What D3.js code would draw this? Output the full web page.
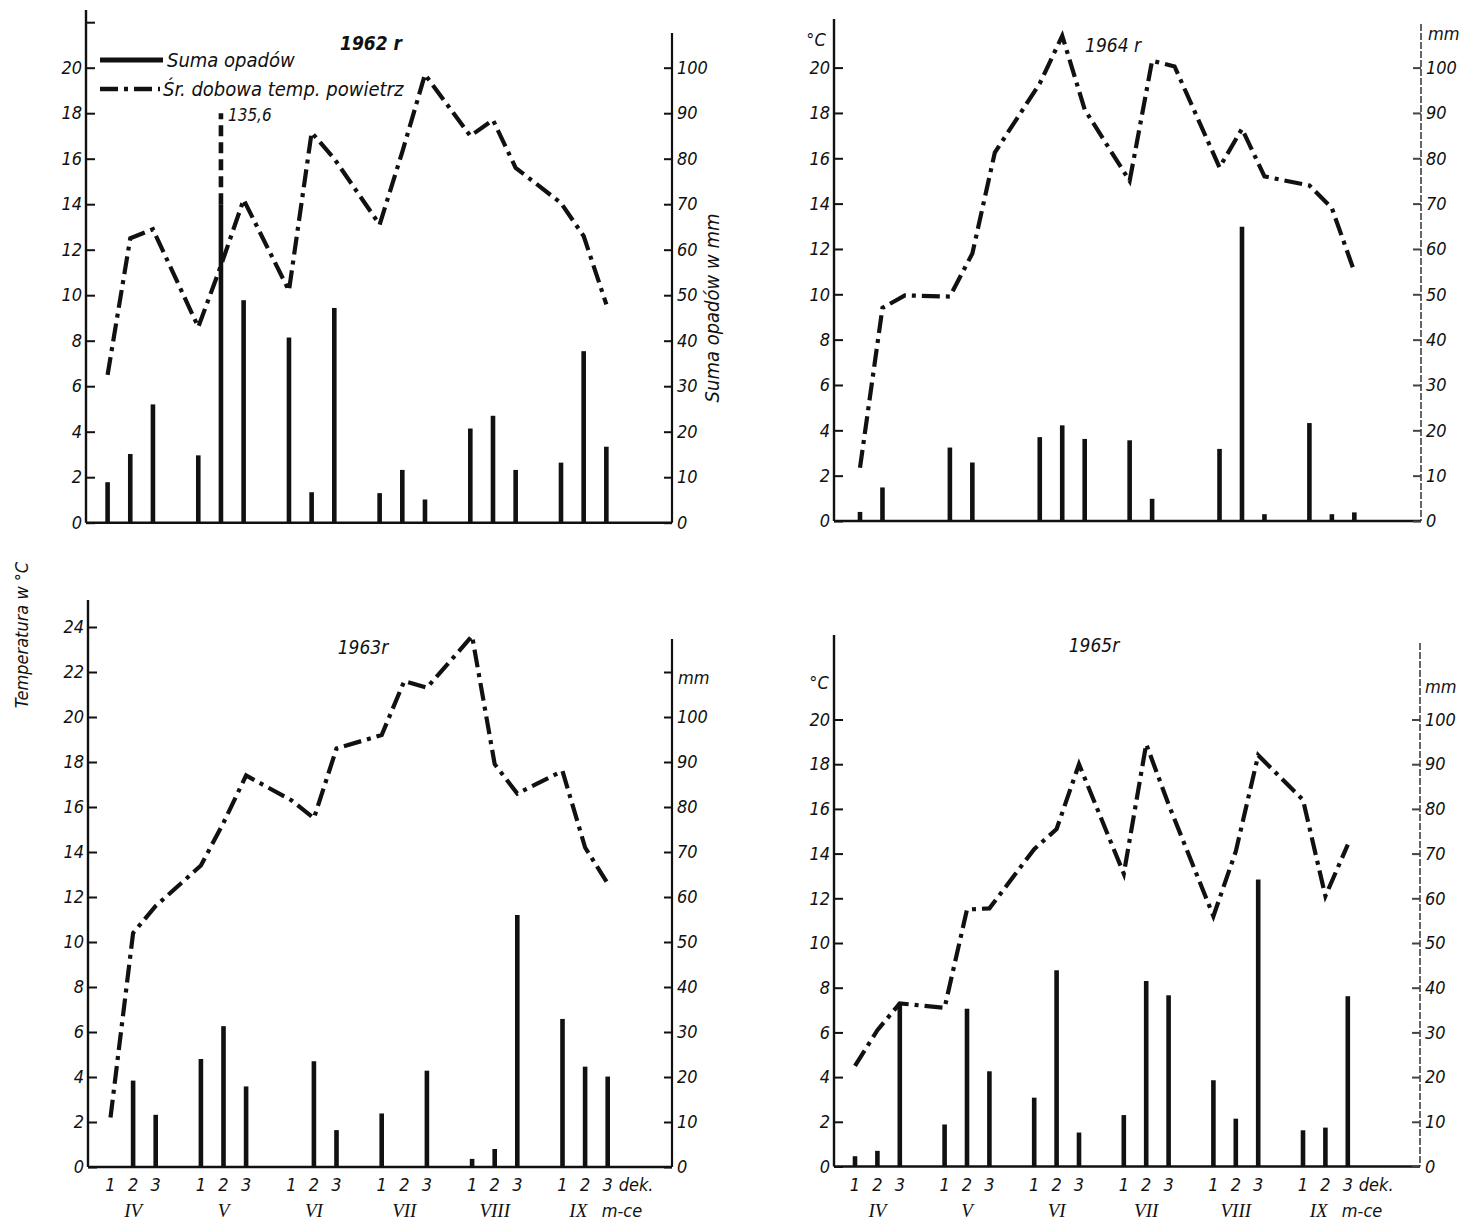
<!DOCTYPE html>
<html>
<head>
<meta charset="utf-8">
<script src="https://cdn.jsdelivr.net/npm/d3@7"></script>
<style>
  body { margin: 0; background: #fff; }
  text { font-family: "DejaVu Sans Condensed", "DejaVu Sans", sans-serif; font-style: italic; fill: #111; }
  .roman { font-family: "Liberation Serif", "DejaVu Serif", serif; }
</style>
</head>
<body>
<svg id="chart" width="1466" height="1223"></svg>
<script>
const months = ['IV', 'V', 'VI', 'VII', 'VIII', 'IX'];
const decades = ['1', '2', '3'];

// temperatura srednia dobowa (°C) i suma opadow (mm), dekady IV-1 .. IX-3
const temp1962 = [6.5, 12.5, 12.9, 8.6, 11.3, 14.2, 10.2, 17.15, 16.0, 13.1, 16.3, 19.7, 17.0, 17.7, 15.6, 14.05, 12.6, 9.6];
const rain1962 = [8.9, 15.1, 26.0, 14.8, 135.6, 48.9, 40.7, 6.7, 47.2, 6.5, 11.6, 5.1, 20.7, 23.5, 11.6, 13.2, 37.7, 16.7];

const temp1963 = [2.2, 10.4, 11.6, 13.4, 15.3, 17.4, 16.3, 15.5, 18.6, 19.2, 21.6, 21.3, 23.6, 17.9, 16.6, 17.6, 14.2, 12.6];
const rain1963 = [0, 19.2, 11.6, 24.0, 31.3, 17.9, 0, 23.5, 8.2, 11.9, 0, 21.4, 1.8, 4.0, 56.0, 32.9, 22.3, 20.1];

const temp1964 = [2.35, 9.4, 9.95, 9.9, 11.8, 16.25, 19.3, 21.4, 18.15, 15.0, 20.3, 20.05, 15.6, 17.3, 15.2, 14.8, 13.8, 11.0];
const rain1964 = [2.0, 7.4, 0, 16.2, 12.9, 0, 18.5, 21.1, 18.1, 17.8, 4.9, 0, 15.9, 64.9, 1.5, 21.6, 1.5, 1.9];

const temp1965 = [4.5, 6.1, 7.3, 7.1, 11.5, 11.55, 14.2, 15.1, 18.0, 13.1, 18.9, 16.2, 11.2, 14.1, 18.4, 16.4, 12.1, 14.4];
const rain1965 = [2.3, 3.5, 36.7, 9.4, 35.3, 21.3, 15.4, 43.9, 7.6, 11.5, 41.5, 38.3, 19.3, 10.7, 64.2, 8.1, 8.7, 38.1];

const tempTicks20 = [0, 2, 4, 6, 8, 10, 12, 14, 16, 18, 20];
const tempTicks24 = [0, 2, 4, 6, 8, 10, 12, 14, 16, 18, 20, 22, 24];
const rainTicks = [0, 10, 20, 30, 40, 50, 60, 70, 80, 90, 100];

const panels = [
    { title: '1962 r', bold: true, temp: temp1962, rain: rain1962, tTicks: tempTicks20, extraTick: 22,
      left: 86, right: 672, base: 522.7, deg: 22.75, x0: 107.6, step: 22.67, leftTop: 10, rightTop: 33,
      titleX: 371, titleY: 50, faded: false, xLabels: false },
    { title: '1964 r', temp: temp1964, rain: rain1964, tTicks: tempTicks20,
      left: 834, right: 1421, base: 521, deg: 22.67, x0: 860, step: 22.47, leftTop: 19, rightTop: 24,
      titleX: 1113, titleY: 52, faded: true, xLabels: false,
      degLabel: [816, 46], mmLabel: [1428, 40] },
    { title: '1963r', temp: temp1963, rain: rain1963, tTicks: tempTicks24,
      left: 88, right: 672, base: 1167, deg: 22.5, x0: 110.5, step: 22.6, leftTop: 600, rightTop: 639,
      titleX: 363, titleY: 654, faded: false, xLabels: true, mmTick: 110,
      mmLabel: [678, 684] },
    { title: '1965r', temp: temp1965, rain: rain1965, tTicks: tempTicks20,
      left: 834, right: 1420, base: 1166.5, deg: 22.35, x0: 855, step: 22.4, leftTop: 635, rightTop: 643,
      titleX: 1094, titleY: 652, faded: true, xLabels: true,
      degLabel: [819, 689], mmLabel: [1425, 693] }
];

const svg = d3.select('#chart');
const BAR_W = 4.6;
const BREAK_FROM = 70, BREAK_TO = 90;

function slot(i) {
    return Math.floor(i / 3) * 4 + (i % 3);
}

panels.forEach(function (p) {
    var g = svg.append('g');
    var y = d3.scaleLinear().domain([0, 20]).range([p.base, p.base - 20 * p.deg]);
    var yMm = d3.scaleLinear().domain([0, 100]).range([p.base, p.base - 20 * p.deg]);
    var x = d3.scaleLinear().domain([0, 22]).range([p.x0, p.x0 + 22 * p.step]);

    // osie
    g.append('line').attr('x1', p.left).attr('x2', p.left).attr('y1', p.leftTop).attr('y2', p.base)
        .attr('stroke', '#111').attr('stroke-width', 2.4);
    g.append('line').attr('x1', p.right).attr('x2', p.right).attr('y1', p.rightTop).attr('y2', p.base)
        .attr('stroke', p.faded ? '#555' : '#111').attr('stroke-width', p.faded ? 1.8 : 2.2)
        .attr('stroke-dasharray', p.faded ? '7,2' : null);
    g.append('line').attr('x1', p.left).attr('x2', p.right).attr('y1', p.base).attr('y2', p.base)
        .attr('stroke', '#111').attr('stroke-width', 2.6);

    var ticksT = p.extraTick ? p.tTicks.concat([p.extraTick]) : p.tTicks;
    var leftAxis = g.append('g').attr('transform', 'translate(' + p.left + ',0)')
        .call(d3.axisLeft(y).tickValues(ticksT).tickSize(-9).tickPadding(4)
            .tickFormat(d => d === p.extraTick ? '' : d));
    leftAxis.select('.domain').remove();
    leftAxis.selectAll('.tick line').attr('stroke', '#111').attr('stroke-width', 2);
    leftAxis.selectAll('.tick text').attr('font-size', 18).attr('font-family', null).attr('fill', '#111');

    var ticksR = p.mmTick ? rainTicks.concat([p.mmTick]) : rainTicks;
    var rightAxis = g.append('g').attr('transform', 'translate(' + p.right + ',0)')
        .call(d3.axisRight(yMm).tickValues(ticksR).tickSize(-8).tickPadding(5)
            .tickFormat(d => d === p.mmTick ? '' : d));
    rightAxis.select('.domain').remove();
    rightAxis.selectAll('.tick line').attr('stroke', p.faded ? '#444' : '#111').attr('stroke-width', 2);
    rightAxis.selectAll('.tick text').attr('font-size', 18).attr('font-family', null)
        .attr('fill', p.faded ? '#666' : '#111');

    // opady
    var shown = p.rain.map((v, i) => ({ v: v, i: i })).filter(d => d.v > 0);
    g.selectAll('rect.bar').data(shown).join('rect')
        .attr('class', 'bar')
        .attr('x', d => x(slot(d.i)) - BAR_W / 2)
        .attr('width', BAR_W)
        .attr('y', d => yMm(d.v > BREAK_TO ? BREAK_FROM : d.v))
        .attr('height', d => p.base - yMm(d.v > BREAK_TO ? BREAK_FROM : d.v))
        .attr('fill', '#111');

    var broken = shown.filter(d => d.v > BREAK_TO);
    g.selectAll('line.brk').data(broken).join('line')
        .attr('class', 'brk')
        .attr('x1', d => x(slot(d.i))).attr('x2', d => x(slot(d.i)))
        .attr('y1', yMm(BREAK_FROM)).attr('y2', yMm(BREAK_TO))
        .attr('stroke', '#111').attr('stroke-width', BAR_W).attr('stroke-dasharray', '11,6');
    g.selectAll('text.brk').data(broken).join('text')
        .attr('class', 'brk')
        .attr('x', d => x(slot(d.i)) + 7).attr('y', yMm(BREAK_TO) + 8)
        .attr('font-size', 17)
        .text(d => String(d.v).replace('.', ','));

    // temperatura
    var line = d3.line().x((d, i) => x(slot(i))).y(d => y(d));
    g.append('path').attr('d', line(p.temp))
        .attr('fill', 'none').attr('stroke', '#111').attr('stroke-width', 4.2)
        .attr('stroke-dasharray', '18,6,4,6');

    g.append('text').attr('x', p.titleX).attr('y', p.titleY).attr('text-anchor', 'middle')
        .attr('font-size', 19).attr('font-weight', p.bold ? 'bold' : 'normal')
        .text(p.title);

    if (p.degLabel) {
        g.append('text').attr('x', p.degLabel[0]).attr('y', p.degLabel[1]).attr('text-anchor', 'middle')
            .attr('font-size', 18).text('°C');
    }
    if (p.mmLabel) {
        g.append('text').attr('x', p.mmLabel[0]).attr('y', p.mmLabel[1])
            .attr('font-size', 18).attr('fill', p.faded && !p.xLabels ? '#666' : '#111').text('mm');
    }

    if (p.xLabels) {
        var ticks = d3.range(18);
        g.selectAll('text.dek').data(ticks).join('text')
            .attr('class', 'dek')
            .attr('x', i => x(slot(i))).attr('y', p.base + 24)
            .attr('text-anchor', 'middle').attr('font-size', 18)
            .text(i => decades[i % 3]);
        g.selectAll('text.mon').data(months).join('text')
            .attr('class', 'mon roman')
            .attr('x', (m, k) => k === months.length - 1 ? x(k * 4 + 0.7) : x(k * 4 + 1))
            .attr('y', p.base + 50)
            .attr('text-anchor', 'middle').attr('font-size', 19)
            .text(m => m);
        g.append('text').attr('x', x(22) + 11).attr('y', p.base + 24).attr('font-size', 18).text('dek.');
        g.append('text').attr('x', x(22) - 6).attr('y', p.base + 50).attr('font-size', 18).text('m-ce');
    }
});

// legenda i opisy osi (panel 1962)
svg.append('line').attr('x1', 100).attr('x2', 163).attr('y1', 60).attr('y2', 60)
    .attr('stroke', '#111').attr('stroke-width', 5);
svg.append('text').attr('x', 167).attr('y', 67).attr('font-size', 20).text('Suma opadów');
svg.append('line').attr('x1', 100).attr('x2', 160).attr('y1', 89).attr('y2', 89)
    .attr('stroke', '#111').attr('stroke-width', 4.5).attr('stroke-dasharray', '18,6,4,6');
svg.append('text').attr('x', 163).attr('y', 96).attr('font-size', 20).text('Śr. dobowa temp. powietrz');

svg.append('text').attr('transform', 'translate(719,308) rotate(-90)')
    .attr('text-anchor', 'middle').attr('font-size', 20).text('Suma opadów w mm');
svg.append('text').attr('transform', 'translate(28,635) rotate(-90)')
    .attr('text-anchor', 'middle').attr('font-size', 18).text('Temperatura w °C');
</script>
</body>
</html>
